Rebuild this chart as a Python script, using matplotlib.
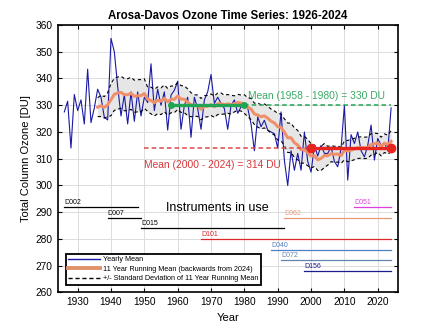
import numpy as np
import pandas as pd
import matplotlib
matplotlib.use("Agg")
import matplotlib.pyplot as plt
from matplotlib.lines import Line2D

plt.rcParams['font.family'] = ['Liberation Sans', 'DejaVu Sans']

# Yearly mean total column ozone, Arosa-Davos [DU]
years = np.arange(1926, 2025)
yearly_mean = [
    327.5, 331.5, 314.0, 334.0, 328.0, 332.0, 323.0, 343.5, 323.5, 329.0,   # 1926-1935
    336.0, 333.0, 325.5, 324.5, 355.0, 350.0, 337.0, 326.0, 334.0, 323.0,   # 1936-1945
    335.0, 324.0, 335.0, 326.0, 333.0, 331.0, 345.5, 328.0, 336.0, 330.0,   # 1946-1955
    335.0, 320.7, 333.8, 335.6, 339.0, 321.0, 330.0, 333.0, 318.0, 333.0,   # 1956-1965
    328.8, 321.0, 332.0, 335.0, 341.5, 330.7, 333.0, 330.7, 328.8, 321.0,   # 1966-1975
    330.0, 332.0, 327.0, 329.4, 330.6, 329.0, 323.0, 313.0, 325.7, 322.0,   # 1976-1985
    324.4, 320.7, 320.0, 319.4, 314.0, 327.5, 309.4, 300.0, 313.0, 305.7,   # 1986-1995
    312.0, 305.7, 320.0, 309.0, 305.0, 315.0, 311.0, 315.0, 312.0, 312.0,   # 1996-2005
    314.4, 309.0, 307.0, 314.0, 330.0, 302.0, 319.0, 315.7, 320.0, 313.0,   # 2006-2015
    310.7, 315.0, 322.6, 309.5, 317.6, 315.0, 316.0, 313.0, 329.0,          # 2016-2024
]

# Spread of the 11-year running mean (1936-2024) [DU]
running_sd = [
    3.5, 4.0, 4.0, 4.5, 6.0, 6.0, 6.0, 6.0, 6.0, 6.0,
    6.0, 6.0, 6.0, 6.0, 5.5, 4.5, 5.0, 5.0, 5.0, 5.0,
    5.0, 5.0, 5.0, 5.0, 5.0, 5.0, 5.0, 5.0, 4.5, 4.0,
    4.0, 4.0, 4.0, 4.0, 4.0, 4.0, 4.0, 4.0, 3.5, 3.5,
    3.5, 3.0, 3.0, 3.0, 3.5, 3.5, 4.0, 4.0, 4.5, 4.5,
    4.5, 4.5, 4.5, 4.5, 5.0, 5.0, 5.0, 5.5, 5.5, 5.5,
    5.5, 5.0, 5.0, 5.0, 4.5, 4.0, 4.0, 4.5, 4.5, 3.5,
    3.0, 3.0, 3.0, 3.0, 3.5, 4.0, 4.0, 4.0, 4.0, 4.0,
    4.0, 4.0, 4.0, 4.0, 3.5, 3.5, 3.5, 3.5, 4.0,
]

# Period means
mean_early_period = (1958, 1980)
mean_early_value = 330
mean_late_period = (2000, 2024)
mean_late_value = 314

# Instruments: name, first year, last year, level on chart, colour
instr_names = ['D002', 'D007', 'D015', 'D101', 'D040', 'D072', 'D156', 'D062', 'D051']
instr_start = [1926, 1939, 1949, 1967, 1988, 1991, 1998, 1992, 2013]
instr_end = [1948, 1949, 1992, 2024, 2024, 2024, 2024, 2024, 2024]
instr_level = [292, 288, 284, 280, 276, 272, 268, 288, 292]
instr_colors = ['black', 'black', 'black', '#d8282c', '#4f7fc4', '#6286ad',
                '#1c1c8c', '#e89a78', '#e040e0']

# 11-year running mean, backwards (trailing) window
series = pd.Series(yearly_mean, index=years)
run_mean = series.rolling(11).mean().dropna()
run_years = run_mean.index.values
run_vals = run_mean.values
sd = np.array(running_sd)

fig = plt.figure(figsize=(4.4, 3.29), dpi=100)
ax = fig.add_axes([0.131, 0.111, 0.773, 0.813])

ax.set_xlim(1924, 2026)
ax.set_ylim(260, 360)
ax.set_xticks(np.arange(1930, 2021, 10))
ax.set_yticks(np.arange(260, 361, 10))
ax.grid(True, color='#dcdcdc', linewidth=0.7)
ax.set_axisbelow(True)

# band of +/- standard deviation
ax.fill_between(run_years, run_vals - sd, run_vals + sd, color='#e6e6e6', lw=0, zorder=1)

# yearly means
ax.plot(years, yearly_mean, color='#1a1aa6', lw=0.8, zorder=3)

ax.plot(run_years, run_vals + sd, color='black', lw=0.8, ls=(0, (3, 2.5)), zorder=4)
ax.plot(run_years, run_vals - sd, color='black', lw=0.8, ls=(0, (3, 2.5)), zorder=4)
ax.plot(run_years, run_vals, color='#f0906a', lw=2.2, zorder=5)

# period mean 1958-1980
green = '#22a553'
ax.plot([mean_early_period[1], 2024], [mean_early_value] * 2, color=green,
        lw=1.1, ls=(0, (3, 2)), zorder=6)
ax.plot(mean_early_period, [mean_early_value] * 2, color=green, lw=2.4,
        marker='o', ms=4, zorder=7)
ax.text(1981, mean_early_value + 3.3,
        f'Mean ({mean_early_period[0]} - {mean_early_period[1]}) = {mean_early_value} DU',
        color='#3aaa66', fontsize=7.4, va='center', ha='left')

# period mean 2000-2024
red = '#e8241f'
ax.plot([1950, mean_late_period[0]], [mean_late_value] * 2, color='#dc4a4a',
        lw=1.1, ls=(0, (3, 2)), zorder=6)
ax.plot(mean_late_period, [mean_late_value] * 2, color=red, lw=2.4,
        marker='o', ms=6, zorder=7)
ax.text(1950, mean_late_value - 6.5,
        f'Mean ({mean_late_period[0]} - {mean_late_period[1]}) = {mean_late_value} DU',
        color='#d8363a', fontsize=7.4, va='center', ha='left')

# instruments in use
for name, s, e, lvl, c in zip(instr_names, instr_start, instr_end, instr_level, instr_colors):
    ax.plot([s, e], [lvl, lvl], color=c, lw=0.9, zorder=3)
    ax.text(s, lvl + 0.4, name, color=c, fontsize=5, ha='left', va='bottom')
ax.text(1972, 291.5, 'Instruments in use', fontsize=9, ha='center', va='center')

ax.set_title('Arosa-Davos Ozone Time Series: 1926-2024', fontsize=8.3,
             fontweight='bold', pad=4)
ax.set_xlabel('Year', fontsize=8, labelpad=4)
ax.set_ylabel('Total Column Ozone [DU]', fontsize=8, labelpad=3)

ax.tick_params(axis='both', which='both', direction='in', top=True, right=True,
               labelsize=7.3, length=3, width=0.8, pad=3.5)
for sp in ax.spines.values():
    sp.set_linewidth(1.2)

handles = [
    Line2D([], [], color='#1a1aa6', lw=1.0),
    Line2D([], [], color='#e0926a', lw=2.8),
    Line2D([], [], color='black', lw=1.0, ls=(0, (3, 2))),
]
labels = ['Yearly Mean', '11 Year Running Mean (backwards from 2024)',
          '+/- Standard Deviation of 11 Year Running Mean']
leg = ax.legend(handles, labels, loc='lower left', bbox_to_anchor=(0.024, 0.028),
                borderaxespad=0, fontsize=5.2, handlelength=4.4, handletextpad=0.35,
                labelspacing=0.35, borderpad=0.35, fancybox=False, framealpha=1,
                edgecolor='black')
leg.get_frame().set_linewidth(1.3)

fig.savefig('out.png', dpi=100)
